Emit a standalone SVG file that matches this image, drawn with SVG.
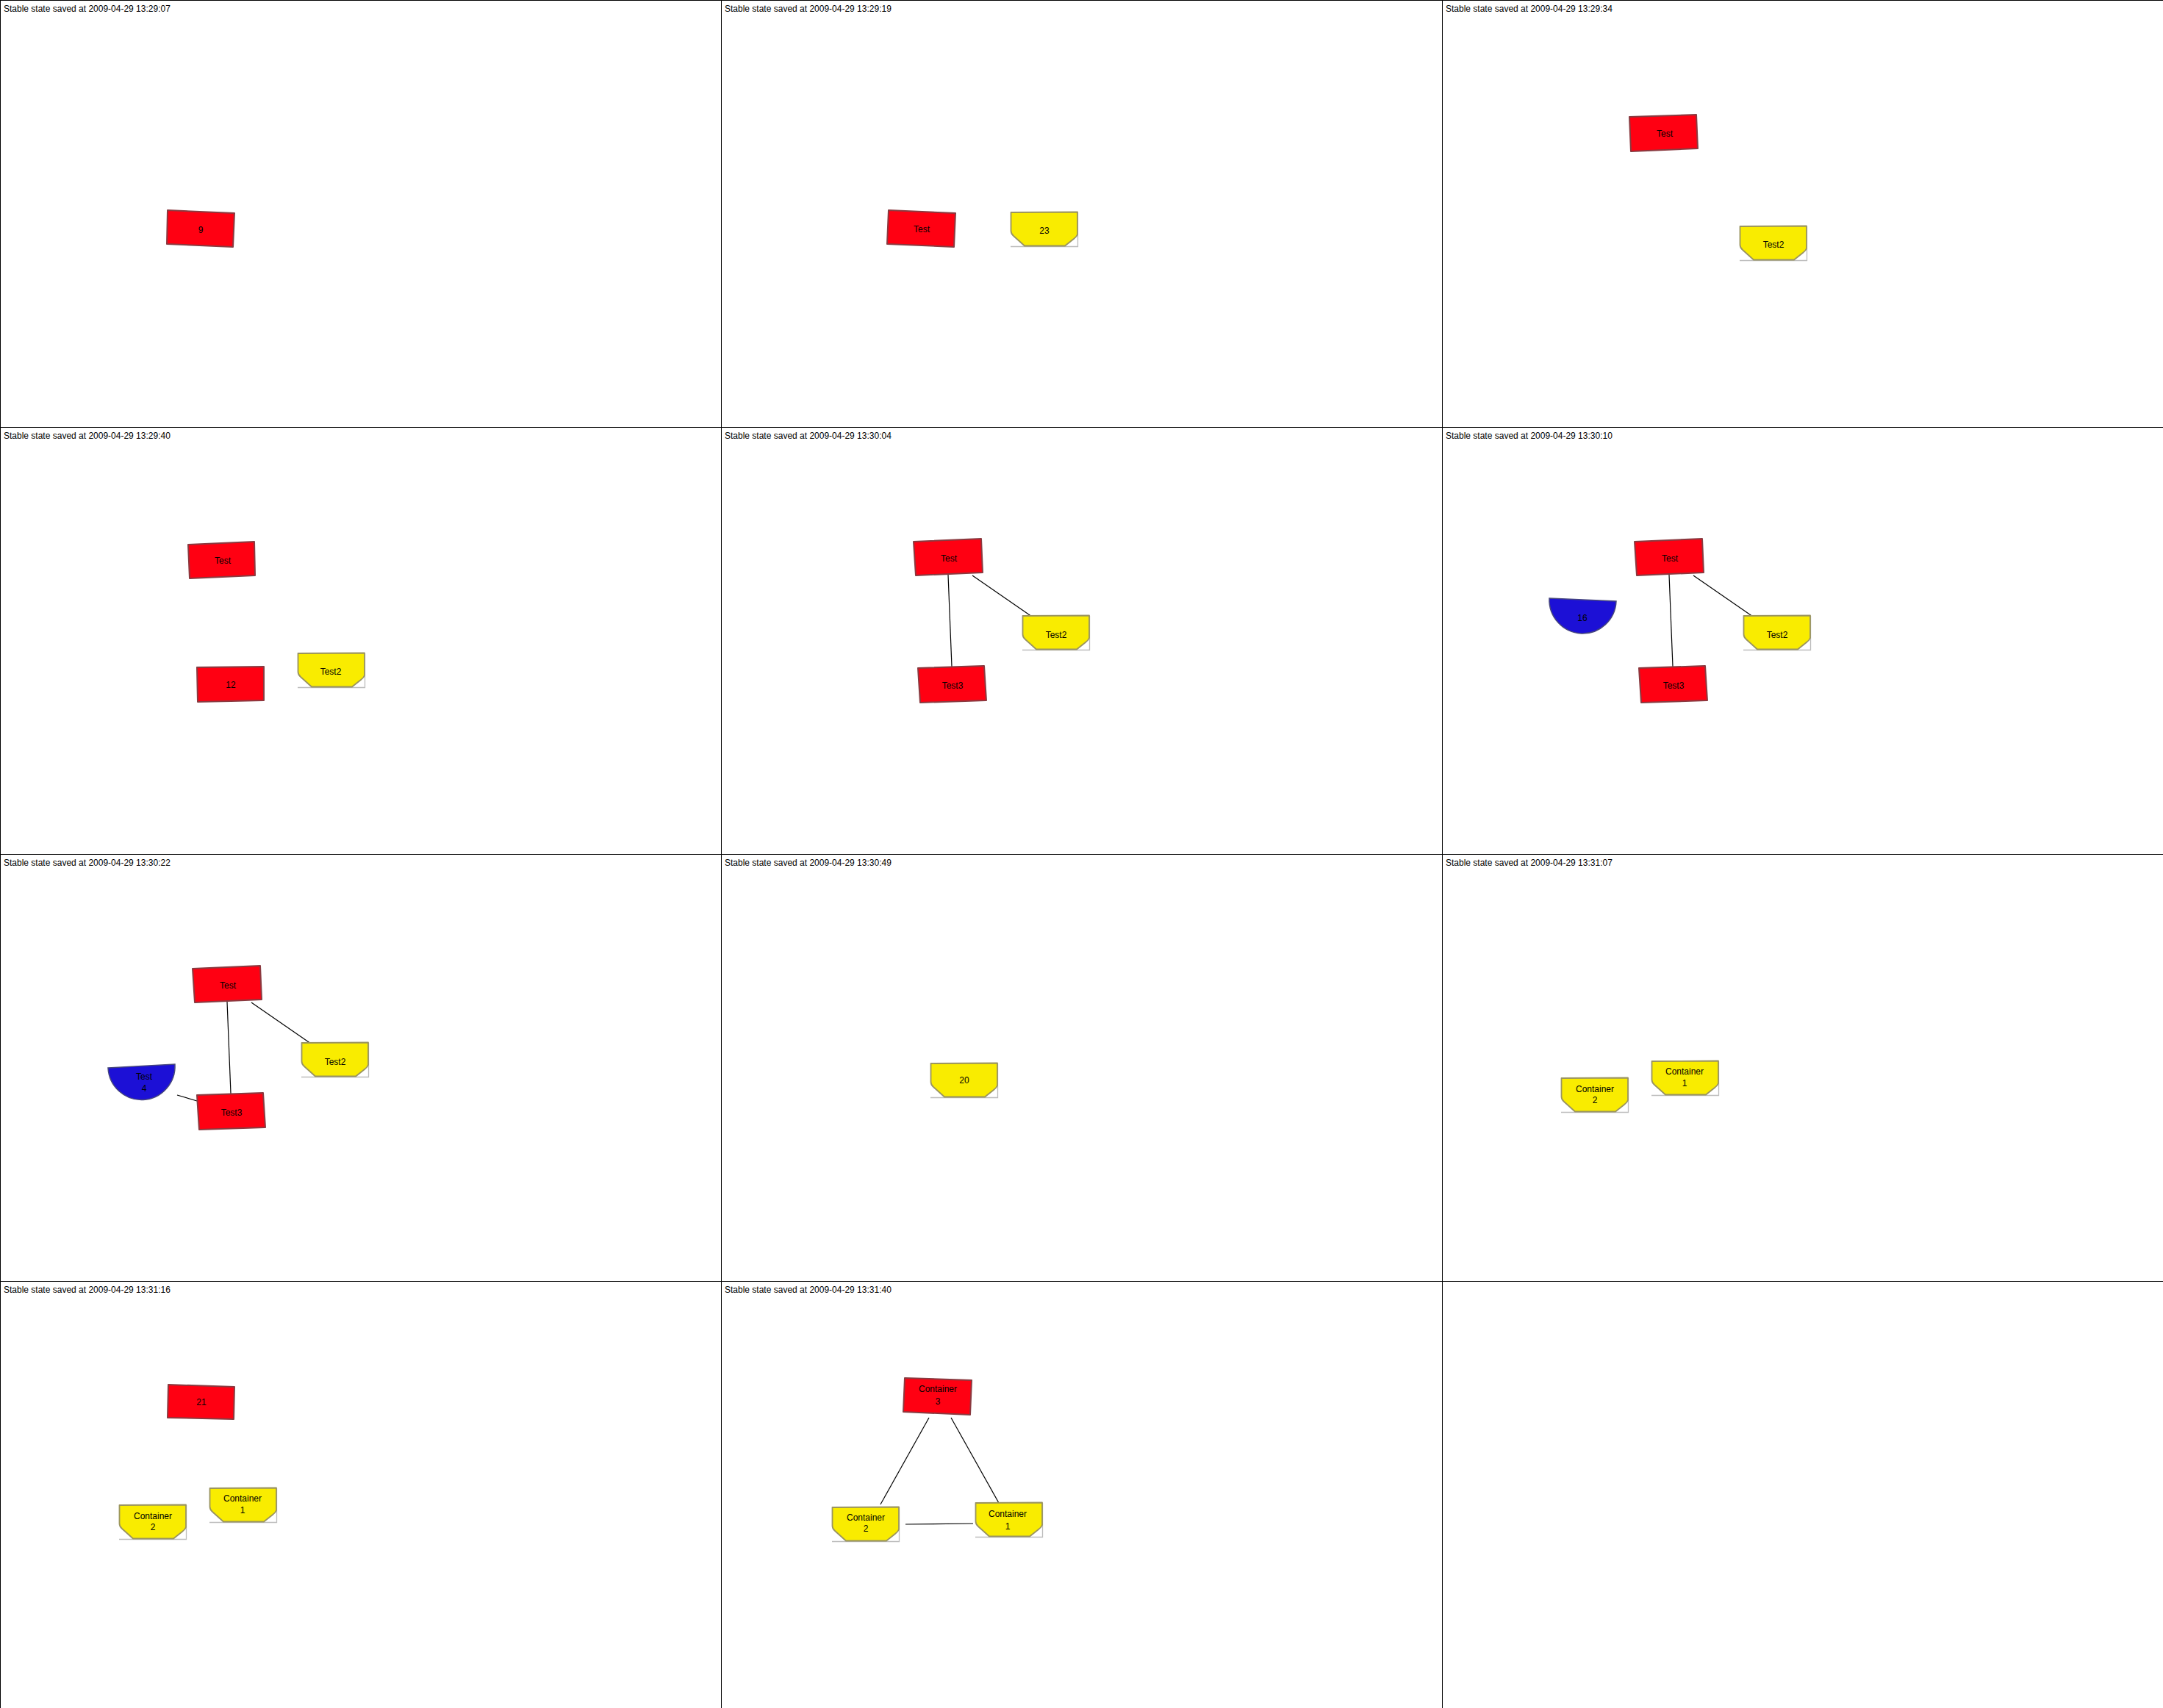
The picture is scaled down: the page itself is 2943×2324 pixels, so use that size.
<svg xmlns="http://www.w3.org/2000/svg" xmlns:xlink="http://www.w3.org/1999/xlink" width="2943" height="2324" viewBox="0 0 2943 2324">
<style>
.frame{fill:none;stroke:#000;stroke-width:1}
.title{font-family:"Liberation Sans",Arial,sans-serif;font-size:12px;fill:#000}
.lbl{font-family:"Liberation Sans",Arial,sans-serif;font-size:12px;fill:#000;text-anchor:middle}
.red{fill:#ff0012;stroke:#8a3a40;stroke-width:2;stroke-linejoin:round}
.yel{fill:#f9ec00;stroke:#9a9460;stroke-width:1.8;stroke-linejoin:round}
.ygr{fill:none;stroke:#bdbdbd;stroke-width:1.3}
.blue{fill:#1c10d6;stroke:#46467e;stroke-width:1.5}
.edge{fill:none;stroke:#000;stroke-width:1.2}
</style>
<defs>
<g id="bowl">
<path class="ygr" d="M0,47.5 H91.5 V1"/>
<path class="yel" d="M0.5,1 L91,0.5 L91,31 Q90,34 86,37 L74,46.5 L19,46.5 L4,33 Q0.5,30 0.5,26 Z"/>
</g>
</defs>
<rect width="2943" height="2324" fill="#fff"/>
<g id="frames">
<rect class="frame" x="0.5" y="0.5" width="981" height="581"/>
<rect class="frame" x="981.5" y="0.5" width="981" height="581"/>
<rect class="frame" x="1962.5" y="0.5" width="981" height="581"/>
<rect class="frame" x="0.5" y="581.5" width="981" height="581"/>
<rect class="frame" x="981.5" y="581.5" width="981" height="581"/>
<rect class="frame" x="1962.5" y="581.5" width="981" height="581"/>
<rect class="frame" x="0.5" y="1162.5" width="981" height="581"/>
<rect class="frame" x="981.5" y="1162.5" width="981" height="581"/>
<rect class="frame" x="1962.5" y="1162.5" width="981" height="581"/>
<rect class="frame" x="0.5" y="1743.5" width="981" height="581"/>
<rect class="frame" x="981.5" y="1743.5" width="981" height="581"/>
<rect class="frame" x="1962.5" y="1743.5" width="981" height="581"/>
</g>
<g id="titles">
<text class="title" x="5" y="16">Stable state saved at 2009-04-29 13:29:07</text>
<text class="title" x="986" y="16">Stable state saved at 2009-04-29 13:29:19</text>
<text class="title" x="1967" y="16">Stable state saved at 2009-04-29 13:29:34</text>
<text class="title" x="5" y="597">Stable state saved at 2009-04-29 13:29:40</text>
<text class="title" x="986" y="597">Stable state saved at 2009-04-29 13:30:04</text>
<text class="title" x="1967" y="597">Stable state saved at 2009-04-29 13:30:10</text>
<text class="title" x="5" y="1178">Stable state saved at 2009-04-29 13:30:22</text>
<text class="title" x="986" y="1178">Stable state saved at 2009-04-29 13:30:49</text>
<text class="title" x="1967" y="1178">Stable state saved at 2009-04-29 13:31:07</text>
<text class="title" x="5" y="1759">Stable state saved at 2009-04-29 13:31:16</text>
<text class="title" x="986" y="1759">Stable state saved at 2009-04-29 13:31:40</text>
</g>
<g id="connectors">
<line class="edge" x1="1290" y1="782" x2="1295" y2="907"/>
<line class="edge" x1="1323" y1="783" x2="1404" y2="839"/>
<line class="edge" x1="2271" y1="782" x2="2276" y2="907"/>
<line class="edge" x1="2304" y1="783" x2="2385" y2="839"/>
<line class="edge" x1="309" y1="1363" x2="314" y2="1488"/>
<line class="edge" x1="342" y1="1364" x2="423" y2="1420"/>
<line class="edge" x1="241" y1="1490" x2="268" y2="1498"/>
<line class="edge" x1="1264" y1="1929" x2="1198" y2="2047"/>
<line class="edge" x1="1294" y1="1929" x2="1359" y2="2045"/>
<line class="edge" x1="1232" y1="2074" x2="1324" y2="2073"/>
</g>
<!-- Panel 1 -->
<g id="p1-n9"><polygon class="red" points="228,286 319,290 317,336 227,332"/><text class="lbl" x="273" y="317">9</text></g>
<!-- Panel 2 -->
<g id="p2-test"><polygon class="red" points="1209,286 1300,290 1298,336 1207,332"/><text class="lbl" x="1254" y="316">Test</text></g>
<g id="p2-n23"><use xlink:href="#bowl" href="#bowl" transform="translate(1375,288)"/><text class="lbl" x="1421" y="318">23</text></g>
<!-- Panel 3 -->
<g id="p3-test"><polygon class="red" points="2217,159 2308,156 2310,202 2219,206"/><text class="lbl" x="2265" y="186">Test</text></g>
<g id="p3-test2"><use xlink:href="#bowl" href="#bowl" transform="translate(2367,307)"/><text class="lbl" x="2413" y="337">Test2</text></g>
<!-- Panel 4 -->
<g id="p4-test"><polygon class="red" points="256,741 346,737 347,783 258,787"/><text class="lbl" x="303" y="767">Test</text></g>
<g id="p4-n12"><polygon class="red" points="268,908 359,907 359,953 269,955"/><text class="lbl" x="314" y="936">12</text></g>
<g id="p4-test2"><use xlink:href="#bowl" href="#bowl" transform="translate(405,888)"/><text class="lbl" x="450" y="918">Test2</text></g>
<!-- Panel 5 -->
<g id="p5-test"><polygon class="red" points="1243,737 1335,733 1337,779 1246,783"/><text class="lbl" x="1291" y="764">Test</text></g>
<g id="p5-test3"><polygon class="red" points="1249,909 1339,906 1342,953 1252,956"/><text class="lbl" x="1296" y="937">Test3</text></g>
<g id="p5-test2"><use xlink:href="#bowl" href="#bowl" transform="translate(1391,837)"/><text class="lbl" x="1437" y="868">Test2</text></g>
<!-- Panel 6 -->
<g id="p6-test"><polygon class="red" points="2224,737 2316,733 2318,779 2227,783"/><text class="lbl" x="2272" y="764">Test</text></g>
<g id="p6-test3"><polygon class="red" points="2230,909 2320,906 2323,953 2233,956"/><text class="lbl" x="2277" y="937">Test3</text></g>
<g id="p6-test2"><use xlink:href="#bowl" href="#bowl" transform="translate(2372,837)"/><text class="lbl" x="2418" y="868">Test2</text></g>
<g id="p6-n16"><path class="blue" d="M2108,814 L2199,818 A45.5,46 0 0 1 2108,814 Z"/><text class="lbl" x="2153" y="845">16</text></g>
<!-- Panel 7 -->
<g id="p7-test"><polygon class="red" points="262,1318 354,1314 356,1360 265,1364"/><text class="lbl" x="310" y="1345">Test</text></g>
<g id="p7-test3"><polygon class="red" points="268,1490 358,1487 361,1534 271,1537"/><text class="lbl" x="315" y="1518">Test3</text></g>
<g id="p7-test2"><use xlink:href="#bowl" href="#bowl" transform="translate(410,1418)"/><text class="lbl" x="456" y="1449">Test2</text></g>
<g id="p7-test4"><path class="blue" d="M147,1453 L238,1448 A45.5,46 0 0 1 147,1453 Z"/><text class="lbl" x="196" y="1469">Test</text><text class="lbl" x="196" y="1485">4</text></g>
<!-- Panel 8 -->
<g id="p8-n20"><use xlink:href="#bowl" href="#bowl" transform="translate(1266,1446)"/><text class="lbl" x="1312" y="1474">20</text></g>
<!-- Panel 9 -->
<g id="p9-c2"><use xlink:href="#bowl" href="#bowl" transform="translate(2124,1466)"/><text class="lbl" x="2170" y="1486">Container</text><text class="lbl" x="2170" y="1501">2</text></g>
<g id="p9-c1"><use xlink:href="#bowl" href="#bowl" transform="translate(2247,1443)"/><text class="lbl" x="2292" y="1462">Container</text><text class="lbl" x="2292" y="1478">1</text></g>
<!-- Panel 10 -->
<g id="p10-n21"><polygon class="red" points="229,1884 319,1887 318,1931 228,1929"/><text class="lbl" x="274" y="1912">21</text></g>
<g id="p10-c2"><use xlink:href="#bowl" href="#bowl" transform="translate(162,2047)"/><text class="lbl" x="208" y="2067">Container</text><text class="lbl" x="208" y="2082">2</text></g>
<g id="p10-c1"><use xlink:href="#bowl" href="#bowl" transform="translate(285,2024)"/><text class="lbl" x="330" y="2043">Container</text><text class="lbl" x="330" y="2059">1</text></g>
<!-- Panel 11 -->
<g id="p11-c3"><polygon class="red" points="1231,1875 1322,1878 1320,1925 1229,1921"/><text class="lbl" x="1276" y="1894">Container</text><text class="lbl" x="1276" y="1911">3</text></g>
<g id="p11-c2"><use xlink:href="#bowl" href="#bowl" transform="translate(1132,2050)"/><text class="lbl" x="1178" y="2069">Container</text><text class="lbl" x="1178" y="2084">2</text></g>
<g id="p11-c1"><use xlink:href="#bowl" href="#bowl" transform="translate(1327,2044)"/><text class="lbl" x="1371" y="2064">Container</text><text class="lbl" x="1371" y="2081">1</text></g>
</svg>
